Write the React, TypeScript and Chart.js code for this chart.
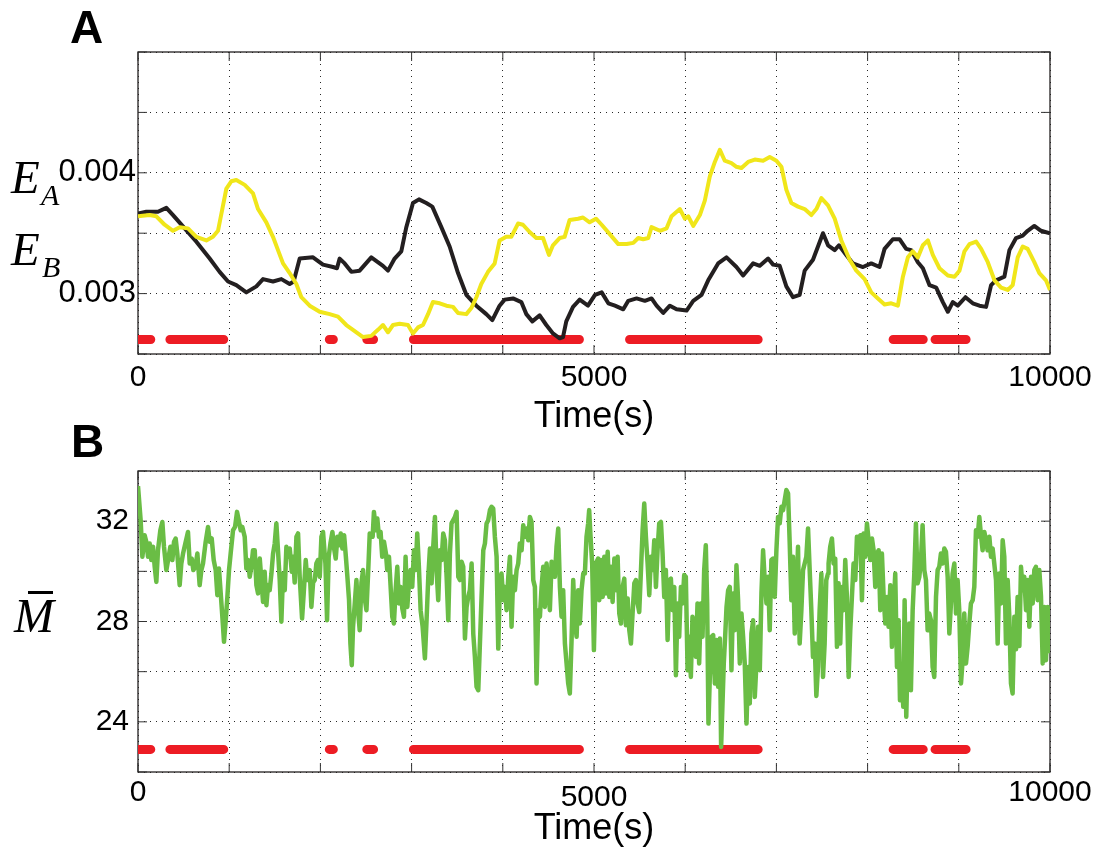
import React, { useEffect, useRef } from 'react';
import { Chart, registerables } from 'chart.js';

Chart.register(...registerables);

// ---------- data ----------
const xTickLabels = [0, 5000, 10000];
const eTickLabels = [0.003, 0.004];
const mTickLabels = [24, 28, 32];

// black trace (panel A), [time s, value]
const blackLine: [number, number][] = [
  [0, 0.003663], [91, 0.003677], [219, 0.003677], [311, 0.00371], [384, 0.00365], [512, 0.00354], [640, 0.00343],
  [786, 0.00329], [895, 0.00318], [987, 0.0031], [1078, 0.00307], [1188, 0.00301], [1298, 0.00306], [1371, 0.00312],
  [1480, 0.0031], [1572, 0.00312], [1663, 0.00308], [1707, 0.0031], [1773, 0.00329], [1919, 0.0033], [2028, 0.00324],
  [2138, 0.00322], [2182, 0.00321], [2211, 0.00329], [2266, 0.00325], [2339, 0.00318], [2430, 0.00319], [2558, 0.0033],
  [2686, 0.00323], [2741, 0.00319], [2814, 0.00329], [2887, 0.00335], [2942, 0.00355], [3015, 0.00375], [3081, 0.00378],
  [3161, 0.00375], [3227, 0.00372], [3326, 0.00355], [3417, 0.00339], [3509, 0.00317], [3600, 0.00299], [3710, 0.0029],
  [3819, 0.00283], [3885, 0.00278], [3965, 0.0029], [4020, 0.00295], [4112, 0.00296], [4203, 0.00293], [4258, 0.00283],
  [4324, 0.00277], [4404, 0.00282], [4477, 0.00274], [4550, 0.00267], [4623, 0.00263], [4660, 0.00264], [4696, 0.00277],
  [4770, 0.00289], [4843, 0.00295], [4934, 0.0029], [5011, 0.00299], [5084, 0.00301], [5157, 0.00292], [5230, 0.0029],
  [5321, 0.00287], [5376, 0.00294], [5467, 0.00296], [5558, 0.00294], [5631, 0.00296], [5686, 0.0029], [5759, 0.00284],
  [5832, 0.0029], [5905, 0.00287], [6015, 0.00286], [6088, 0.00294], [6179, 0.00299], [6252, 0.00311], [6361, 0.00325],
  [6453, 0.0033], [6562, 0.00322], [6635, 0.00315], [6745, 0.00325], [6818, 0.00323], [6909, 0.00329], [6964, 0.00324],
  [7036, 0.00323], [7109, 0.00306], [7182, 0.00297], [7255, 0.00299], [7310, 0.00319], [7401, 0.00328], [7511, 0.0035],
  [7566, 0.0034], [7639, 0.00336], [7686, 0.0034], [7766, 0.00332], [7839, 0.00325], [7949, 0.00322], [8040, 0.00325],
  [8131, 0.00322], [8186, 0.00337], [8277, 0.00345], [8350, 0.00345], [8423, 0.00337], [8478, 0.00336], [8551, 0.00326],
  [8606, 0.00321], [8679, 0.00307], [8752, 0.00305], [8825, 0.00293], [8880, 0.00285], [8934, 0.00293], [8989, 0.0029],
  [9073, 0.00297], [9153, 0.00292], [9226, 0.0029], [9299, 0.00289], [9354, 0.00307], [9409, 0.00311], [9500, 0.00314],
  [9555, 0.00336], [9628, 0.00346], [9701, 0.00348], [9755, 0.00352], [9828, 0.00356], [9901, 0.00352], [10000, 0.0035],
];

// yellow trace (panel A)
const yellowLine: [number, number][] = [
  [0, 0.00364], [128, 0.00365], [201, 0.00364], [292, 0.00357], [384, 0.00352], [457, 0.00355], [548, 0.00354],
  [640, 0.00347], [749, 0.00344], [822, 0.00347], [877, 0.00352], [914, 0.00366], [969, 0.00387], [1023, 0.00393],
  [1078, 0.00394], [1170, 0.0039], [1261, 0.00383], [1316, 0.0037], [1407, 0.00359], [1480, 0.00347], [1535, 0.00336],
  [1590, 0.00325], [1663, 0.00317], [1736, 0.00308], [1791, 0.00297], [1882, 0.0029], [1992, 0.00285], [2102, 0.00283],
  [2193, 0.00281], [2284, 0.00274], [2357, 0.0027], [2467, 0.00264], [2558, 0.00265], [2631, 0.0027], [2686, 0.00274],
  [2741, 0.00268], [2796, 0.00274], [2869, 0.00275], [2960, 0.00274], [3015, 0.00267], [3070, 0.00272], [3125, 0.00274],
  [3180, 0.00283], [3234, 0.00293], [3308, 0.00292], [3381, 0.0029], [3454, 0.00289], [3509, 0.00284], [3600, 0.00283],
  [3655, 0.00288], [3710, 0.00297], [3764, 0.00308], [3838, 0.00318], [3911, 0.00325], [3965, 0.00344], [4038, 0.00347],
  [4093, 0.00347], [4167, 0.00358], [4221, 0.00357], [4294, 0.00351], [4367, 0.00346], [4441, 0.00346], [4506, 0.00332],
  [4550, 0.0034], [4623, 0.00346], [4678, 0.00347], [4733, 0.00361], [4825, 0.00362], [4879, 0.00363], [4952, 0.00359],
  [5022, 0.00362], [5084, 0.00357], [5175, 0.00349], [5266, 0.00341], [5358, 0.00341], [5431, 0.00342], [5485, 0.00346],
  [5540, 0.00345], [5595, 0.00346], [5631, 0.00355], [5723, 0.00352], [5796, 0.00354], [5850, 0.00364], [5942, 0.0037],
  [5996, 0.00362], [6033, 0.00364], [6088, 0.00356], [6161, 0.00365], [6215, 0.00377], [6270, 0.00397], [6325, 0.00409],
  [6380, 0.00419], [6434, 0.0041], [6507, 0.00408], [6562, 0.00405], [6617, 0.00404], [6690, 0.00409], [6763, 0.00411],
  [6854, 0.0041], [6927, 0.00413], [7000, 0.0041], [7055, 0.00405], [7109, 0.00386], [7164, 0.00375], [7237, 0.00372],
  [7310, 0.0037], [7383, 0.00365], [7438, 0.0037], [7493, 0.00379], [7566, 0.00373], [7639, 0.00362], [7712, 0.00344],
  [7803, 0.00328], [7876, 0.00319], [7967, 0.00312], [8040, 0.00301], [8113, 0.00296], [8186, 0.00291], [8259, 0.00292],
  [8332, 0.0029], [8387, 0.00314], [8442, 0.0033], [8496, 0.00335], [8551, 0.0033], [8606, 0.0034], [8661, 0.00344],
  [8715, 0.00332], [8788, 0.00321], [8880, 0.00315], [8953, 0.00314], [9007, 0.00319], [9062, 0.00335], [9117, 0.00341],
  [9190, 0.00343], [9245, 0.00337], [9318, 0.00326], [9391, 0.00311], [9464, 0.00305], [9536, 0.00303], [9591, 0.00307],
  [9646, 0.0033], [9701, 0.00339], [9755, 0.00337], [9828, 0.00326], [9883, 0.00317], [9956, 0.00311], [10000, 0.00303],
];

// green trace (panel B), [time s, M-bar]
const greenLine: [number, number][] = [
  [0, 33.4], [29, 32.04], [48, 30.58], [73, 31.44], [91, 31.18], [110, 30.58], [128, 31.11], [146, 30.45], [165, 30.98],
  [183, 30.18], [201, 29.58], [219, 30.84], [245, 31.64], [267, 31.97], [285, 30.98], [311, 30.05], [336, 30.58],
  [355, 30.98], [377, 30.45], [395, 31.18], [413, 31.31], [431, 30.71], [457, 29.45], [475, 30.31], [494, 30.71],
  [519, 31.11], [548, 31.57], [567, 30.31], [589, 30.51], [607, 30.05], [629, 30.18], [651, 30.71], [676, 29.45],
  [695, 30.05], [713, 30.31], [742, 31.18], [768, 31.77], [786, 31.18], [808, 31.31], [830, 30.45], [852, 30.05],
  [870, 29.05], [888, 30.11], [907, 29.12], [925, 28.19], [943, 27.19], [962, 28.05], [980, 28.98], [998, 30.05],
  [1016, 30.71], [1042, 31.64], [1064, 31.77], [1086, 32.37], [1108, 31.97], [1126, 31.64], [1144, 31.77], [1170, 31.38],
  [1188, 30.11], [1207, 30.45], [1225, 29.78], [1243, 30.18], [1261, 30.84], [1280, 30.84], [1298, 29.45], [1316, 29.12],
  [1335, 30.51], [1353, 29.65], [1371, 28.78], [1389, 29.98], [1408, 28.65], [1426, 29.45], [1444, 29.25], [1463, 29.91],
  [1481, 30.71], [1499, 31.11], [1517, 31.91], [1536, 30.78], [1554, 29.65], [1572, 27.99], [1590, 29.91], [1609, 29.25],
  [1627, 30.98], [1645, 30.58], [1664, 30.91], [1686, 29.98], [1700, 30.58], [1718, 29.55], [1737, 31.38], [1755, 31.51],
  [1773, 29.78], [1799, 28.12], [1817, 29.12], [1839, 30.45], [1857, 29.65], [1883, 30.05], [1901, 28.58], [1920, 29.55],
  [1938, 29.65], [1956, 30.31], [1974, 30.45], [1993, 29.78], [2011, 31.38], [2029, 31.57], [2055, 30.31], [2073, 28.05],
  [2091, 30.58], [2110, 31.11], [2132, 31.57], [2150, 30.91], [2168, 30.51], [2186, 31.38], [2205, 31.04], [2223, 31.51],
  [2241, 30.91], [2260, 31.44], [2278, 30.64], [2296, 29.78], [2314, 28.85], [2329, 27.12], [2344, 26.26], [2358, 27.79],
  [2377, 28.72], [2395, 29.65], [2413, 28.45], [2431, 27.65], [2450, 29.55], [2468, 30.05], [2486, 28.92], [2505, 28.45],
  [2523, 29.91], [2541, 31.51], [2573, 31.38], [2587, 32.37], [2609, 31.64], [2624, 32.11], [2642, 31.38], [2660, 31.57],
  [2678, 30.58], [2697, 31.18], [2719, 30.71], [2733, 30.05], [2752, 30.58], [2770, 29.38], [2788, 28.19], [2806, 27.92],
  [2825, 29.25], [2843, 30.18], [2861, 28.72], [2879, 29.38], [2898, 28.52], [2916, 28.19], [2934, 30.58], [2953, 28.58],
  [2971, 29.52], [2989, 30.05], [3007, 29.38], [3026, 30.84], [3044, 30.05], [3062, 31.51], [3080, 30.18], [3099, 28.45],
  [3121, 27.79], [3146, 26.53], [3164, 28.05], [3183, 29.78], [3201, 30.91], [3219, 29.52], [3237, 30.98], [3256, 32.17],
  [3274, 30.05], [3292, 28.85], [3311, 30.84], [3329, 30.45], [3347, 31.51], [3365, 31.24], [3384, 29.78], [3402, 28.05],
  [3420, 30.71], [3438, 31.91], [3457, 32.04], [3475, 32.17], [3493, 32.37], [3512, 29.78], [3530, 29.65], [3548, 30.38],
  [3566, 30.18], [3585, 27.32], [3603, 28.58], [3621, 28.98], [3639, 29.25], [3658, 30.31], [3676, 27.52], [3694, 26.59],
  [3712, 25.4], [3731, 25.26], [3749, 27.12], [3767, 28.98], [3786, 30.84], [3804, 31.11], [3822, 31.91], [3840, 32.04],
  [3859, 32.44], [3877, 32.57], [3895, 32.5], [3913, 31.38], [3932, 30.58], [3950, 26.92], [3968, 29.52], [3986, 29.91],
  [4005, 28.85], [4023, 29.38], [4041, 28.45], [4060, 29.78], [4078, 30.58], [4096, 27.79], [4114, 29.78], [4133, 29.25],
  [4151, 30.05], [4169, 30.31], [4187, 31.11], [4206, 30.84], [4224, 31.84], [4242, 31.38], [4260, 31.71], [4279, 31.24],
  [4297, 32.17], [4315, 31.97], [4334, 29.65], [4352, 29.38], [4370, 25.53], [4388, 28.45], [4407, 28.19], [4425, 29.38],
  [4443, 30.18], [4461, 28.58], [4480, 30.31], [4498, 29.38], [4516, 28.45], [4535, 30.38], [4553, 30.24], [4571, 29.78],
  [4589, 30.98], [4608, 31.71], [4626, 29.38], [4644, 28.19], [4662, 29.25], [4681, 27.12], [4699, 26.33], [4717, 25.53],
  [4735, 25.13], [4754, 27.26], [4772, 29.65], [4790, 28.05], [4809, 27.39], [4827, 29.25], [4845, 27.92], [4863, 29.25],
  [4882, 29.91], [4900, 29.91], [4918, 31.38], [4936, 31.91], [4947, 32.44], [4962, 31.38], [4980, 30.31], [4999, 26.86],
  [5020, 30.31], [5046, 30.51], [5058, 28.85], [5077, 30.45], [5095, 28.98], [5113, 30.58], [5131, 29.12], [5150, 30.78],
  [5168, 28.98], [5186, 30.18], [5204, 28.78], [5223, 30.51], [5241, 29.25], [5259, 30.58], [5277, 28.32], [5296, 27.92],
  [5314, 29.38], [5332, 29.71], [5350, 27.85], [5369, 28.92], [5387, 27.65], [5405, 27.12], [5423, 28.32], [5442, 29.52],
  [5460, 29.65], [5478, 28.72], [5496, 28.38], [5515, 30.05], [5533, 31.64], [5551, 32.7], [5569, 31.38], [5588, 30.31],
  [5606, 29.05], [5624, 30.58], [5642, 30.05], [5661, 31.24], [5679, 29.38], [5697, 30.84], [5715, 31.91], [5734, 31.97],
  [5752, 30.71], [5770, 28.98], [5788, 30.05], [5807, 27.26], [5825, 29.65], [5843, 29.71], [5861, 28.45], [5880, 29.38],
  [5898, 25.86], [5916, 28.72], [5934, 27.39], [5953, 29.38], [5971, 28.72], [5989, 29.85], [6007, 29.78], [6026, 26.06],
  [6044, 27.39], [6062, 25.79], [6080, 28.19], [6099, 27.79], [6117, 26.59], [6135, 28.72], [6153, 26.33], [6172, 28.72],
  [6190, 27.39], [6208, 30.05], [6226, 31.04], [6241, 28.72], [6255, 23.93], [6270, 25.79], [6288, 27.39], [6307, 27.46],
  [6325, 25.53], [6343, 27.26], [6361, 25.4], [6380, 27.32], [6394, 23.0], [6409, 24.73], [6423, 26.33], [6438, 27.39],
  [6453, 28.58], [6471, 29.25], [6489, 29.38], [6507, 26.06], [6526, 29.12], [6544, 27.65], [6562, 30.24], [6580, 28.85],
  [6599, 26.33], [6617, 28.32], [6635, 27.39], [6653, 26.33], [6672, 23.93], [6690, 26.19], [6708, 24.73], [6726, 27.52],
  [6745, 28.05], [6763, 24.99], [6781, 26.33], [6799, 27.79], [6818, 26.06], [6836, 29.12], [6854, 30.84], [6872, 29.65],
  [6891, 28.72], [6909, 29.78], [6927, 27.65], [6945, 30.45], [6964, 30.51], [6982, 28.98], [7000, 30.84], [7018, 32.17],
  [7036, 31.91], [7055, 32.57], [7073, 32.44], [7091, 32.84], [7109, 33.24], [7128, 33.1], [7146, 31.11], [7164, 28.85],
  [7182, 30.58], [7201, 27.52], [7219, 28.98], [7237, 30.98], [7255, 27.12], [7274, 28.45], [7292, 30.05], [7310, 30.31],
  [7328, 30.58], [7347, 31.71], [7365, 30.05], [7383, 28.45], [7401, 26.59], [7420, 27.12], [7438, 25.03], [7456, 26.19],
  [7474, 28.45], [7493, 29.91], [7511, 25.79], [7529, 27.12], [7547, 29.65], [7566, 29.91], [7572, 30.31], [7590, 30.98],
  [7609, 31.31], [7627, 30.31], [7645, 30.51], [7664, 26.99], [7682, 29.52], [7700, 27.12], [7718, 29.38], [7737, 28.45],
  [7755, 30.45], [7773, 28.98], [7792, 25.79], [7810, 27.65], [7828, 28.98], [7846, 30.31], [7865, 29.65], [7883, 31.38],
  [7901, 31.24], [7920, 31.44], [7938, 28.85], [7956, 31.51], [7974, 30.58], [7993, 31.91], [8011, 31.24], [8029, 30.45],
  [8048, 31.31], [8066, 30.84], [8084, 29.38], [8102, 30.71], [8121, 30.84], [8139, 28.45], [8157, 30.71], [8176, 28.98],
  [8194, 27.92], [8212, 28.98], [8230, 27.79], [8249, 29.45], [8267, 26.99], [8285, 28.45], [8303, 29.91], [8322, 26.19],
  [8340, 28.05], [8355, 24.86], [8373, 26.06], [8391, 24.6], [8406, 28.85], [8424, 24.2], [8439, 26.59], [8457, 27.92],
  [8475, 25.26], [8494, 28.45], [8512, 29.91], [8530, 31.91], [8548, 29.52], [8567, 29.78], [8585, 30.45], [8603, 31.84],
  [8622, 30.05], [8640, 29.65], [8658, 27.65], [8676, 28.32], [8695, 28.05], [8713, 26.19], [8731, 25.79], [8750, 28.98],
  [8768, 30.05], [8786, 30.18], [8804, 30.71], [8823, 30.31], [8841, 30.91], [8859, 30.78], [8878, 29.78], [8896, 27.52],
  [8914, 28.72], [8932, 29.91], [8951, 30.31], [8969, 28.32], [8987, 29.65], [9005, 28.45], [9024, 25.53], [9042, 26.46],
  [9060, 28.32], [9079, 26.33], [9097, 26.99], [9115, 27.92], [9133, 28.72], [9152, 28.85], [9170, 29.38], [9188, 31.64],
  [9207, 31.38], [9225, 32.17], [9243, 31.44], [9261, 30.84], [9280, 31.57], [9298, 31.24], [9316, 30.84], [9335, 31.38],
  [9353, 30.58], [9371, 30.91], [9389, 30.31], [9408, 29.65], [9426, 27.12], [9444, 29.91], [9463, 28.72], [9481, 31.24],
  [9499, 30.58], [9517, 27.12], [9536, 29.65], [9554, 28.19], [9572, 25.53], [9590, 25.13], [9609, 28.19], [9627, 26.89],
  [9645, 28.98], [9664, 27.02], [9682, 30.18], [9700, 29.25], [9718, 29.78], [9737, 28.45], [9755, 29.65], [9773, 27.79],
  [9792, 29.78], [9810, 28.72], [9828, 30.05], [9846, 30.18], [9865, 28.85], [9883, 30.05], [9901, 29.01], [9920, 26.33],
  [9938, 28.58], [9956, 26.46], [9975, 28.58], [9993, 26.73],
];

// red marked intervals [start s, end s]
const redSegments: [number, number][] = [
  [0, 140], [350, 940], [2098, 2142], [2509, 2583], [3020, 4840], [5390, 6800], [8280, 8610], [8740, 9080],
];
const redLevelA = 0.00262;
const redLevelB = 22.9;

// ---------- helpers ----------
const FONT = "'Liberation Sans', Arial, Helvetica, sans-serif";
const SERIF = "'Liberation Serif', 'Times New Roman', Times, serif";

const toXY = (arr: [number, number][]) => arr.map(([x, y]) => ({ x, y }));

function redData(level: number) {
  const out: { x: number; y: number | null }[] = [];
  redSegments.forEach(([a, b], i) => {
    if (i > 0) out.push({ x: (redSegments[i - 1][1] + a) / 2, y: null });
    out.push({ x: a, y: level }, { x: b, y: level });
  });
  return out;
}

const framePlugin = {
  id: 'matlabFrame',
  beforeDatasetsDraw(chart: any) {
    const { ctx, chartArea, scales } = chart;
    const { left, right, top, bottom } = chartArea;
    ctx.save();
    ctx.strokeStyle = '#231f20';
    ctx.lineWidth = 1.3;
    ctx.strokeRect(left, top, right - left, bottom - top);
    ctx.lineWidth = 1;
    ctx.strokeStyle = '#333';
    const tl = 9;
    ctx.beginPath();
    scales.x.ticks.forEach((t: any) => {
      const px = scales.x.getPixelForValue(t.value);
      ctx.moveTo(px, bottom);
      ctx.lineTo(px, bottom - tl);
      ctx.moveTo(px, top);
      ctx.lineTo(px, top + tl);
    });
    scales.y.ticks.forEach((t: any) => {
      const py = scales.y.getPixelForValue(t.value);
      ctx.moveTo(left, py);
      ctx.lineTo(left + tl, py);
      ctx.moveTo(right, py);
      ctx.lineTo(right - tl, py);
    });
    ctx.stroke();
    ctx.restore();
  },
};

type PanelProps = {
  top: number;
  height: number;
  plotTop: number;
  plotBottom: number;
  yMin: number;
  yMax: number;
  yStep: number;
  yLabels: number[];
  yDigits: number;
  yFont: number;
  yPad: number;
  xPad: number;
  midLabelDrop: number;
  titlePad: number;
  datasets: any[];
};

function Panel(p: PanelProps) {
  const ref = useRef<HTMLCanvasElement>(null);
  useEffect(() => {
    const gridCommon = { drawTicks: false, color: 'rgba(0,0,0,0.85)', lineWidth: 1 };
    const borderCommon = { display: false, dash: [1, 5] };
    const chart = new Chart(ref.current as HTMLCanvasElement, {
      type: 'line',
      data: { datasets: p.datasets },
      options: {
        animation: false,
        responsive: false,
        devicePixelRatio: 1,
        layout: { padding: { top: p.plotTop, left: 0, right: 63, bottom: 0 } },
        plugins: { legend: { display: false }, tooltip: { enabled: false } },
        elements: { point: { radius: 0 }, line: { tension: 0 } },
        scales: {
          x: {
            type: 'linear',
            min: 0,
            max: 10000,
            afterFit: (s: any) => {
              s.height = p.height - p.plotBottom;
            },
            ticks: {
              stepSize: 1000,
              autoSkip: false,
              maxRotation: 0,
              padding: p.xPad,
              color: '#000',
              font: (c: any) => ({
                family: FONT,
                size: 30,
                lineHeight: c.tick && c.tick.value === 5000 ? (36 + 2 * p.midLabelDrop) / 30 : 1.2,
              }),
              callback: (v: any) => (xTickLabels.includes(Number(v)) ? String(v) : ''),
            },
            grid: gridCommon,
            border: borderCommon,
            title: {
              display: true,
              text: 'Time(s)',
              color: '#000',
              font: { family: FONT, size: 36 },
              padding: { top: 0, bottom: p.titlePad },
            },
          },
          y: {
            type: 'linear',
            min: p.yMin,
            max: p.yMax,
            afterFit: (s: any) => {
              s.width = 138;
            },
            ticks: {
              stepSize: p.yStep,
              padding: p.yPad,
              color: '#000',
              font: { family: FONT, size: p.yFont },
              callback: (v: any) => {
                const hit = p.yLabels.find((t) => Math.abs(t - Number(v)) < 1e-9);
                return hit !== undefined ? hit.toFixed(p.yDigits) : '';
              },
            },
            grid: gridCommon,
            border: borderCommon,
          },
        },
      } as any,
      plugins: [framePlugin],
    });
    return () => chart.destroy();
  }, []);
  return (
    <canvas
      ref={ref}
      width={1113}
      height={p.height}
      style={{ position: 'absolute', left: 0, top: p.top, width: 1113, height: p.height }}
    />
  );
}

export default function App() {
  const datasetsA = [
    {
      data: toXY(yellowLine),
      borderColor: '#F0E61A',
      borderWidth: 4,
      borderJoinStyle: 'round',
      order: 0,
    },
    {
      data: toXY(blackLine),
      borderColor: '#231F20',
      borderWidth: 4,
      borderJoinStyle: 'round',
      order: 1,
    },
    {
      data: redData(redLevelA),
      borderColor: '#ED1C24',
      borderWidth: 9,
      borderCapStyle: 'round',
      spanGaps: false,
      order: 2,
    },
  ];
  const datasetsB = [
    {
      data: toXY(greenLine),
      borderColor: '#6ABD45',
      borderWidth: 4.5,
      borderJoinStyle: 'round',
      order: 0,
    },
    {
      data: redData(redLevelB),
      borderColor: '#ED1C24',
      borderWidth: 9,
      borderCapStyle: 'round',
      spanGaps: false,
      order: 1,
    },
  ];

  return (
    <div style={{ position: 'absolute', left: 0, top: 0, width: 1113, height: 855, background: '#fff', overflow: 'hidden' }}>
      <Panel
        top={0}
        height={450}
        plotTop={52}
        plotBottom={354}
        yMin={0.0025}
        yMax={0.005}
        yStep={0.0005}
        yLabels={eTickLabels}
        yDigits={3}
        yFont={31}
        yPad={2}
        xPad={6}
        midLabelDrop={0}
        titlePad={11}
        datasets={datasetsA}
      />
      <Panel
        top={430}
        height={425}
        plotTop={41}
        plotBottom={342}
        yMin={22}
        yMax={34}
        yStep={2}
        yLabels={mTickLabels}
        yDigits={0}
        yFont={30}
        yPad={9}
        xPad={3}
        midLabelDrop={5}
        titlePad={4}
        datasets={datasetsB}
      />
      <svg
        width={1113}
        height={855}
        style={{ position: 'absolute', left: 0, top: 0, pointerEvents: 'none' }}
      >
        <text x={70} y={43} fontFamily={FONT} fontWeight="bold" fontSize={46} fill="#000">A</text>
        <text x={71} y={457} fontFamily={FONT} fontWeight="bold" fontSize={46} fill="#000">B</text>
        <text x={11} y={193} fontFamily={SERIF} fontStyle="italic" fontSize={47} fill="#000">E</text>
        <text x={41} y={205} fontFamily={SERIF} fontStyle="italic" fontSize={30} fill="#000">A</text>
        <text x={11} y={265} fontFamily={SERIF} fontStyle="italic" fontSize={47} fill="#000">E</text>
        <text x={42} y={277} fontFamily={SERIF} fontStyle="italic" fontSize={30} fill="#000">B</text>
        <text x={14} y={632} fontFamily={SERIF} fontStyle="italic" fontSize={48} fill="#000">M</text>
        <rect x={28} y={591} width={25} height={3} fill="#000" />
      </svg>
    </div>
  );
}
